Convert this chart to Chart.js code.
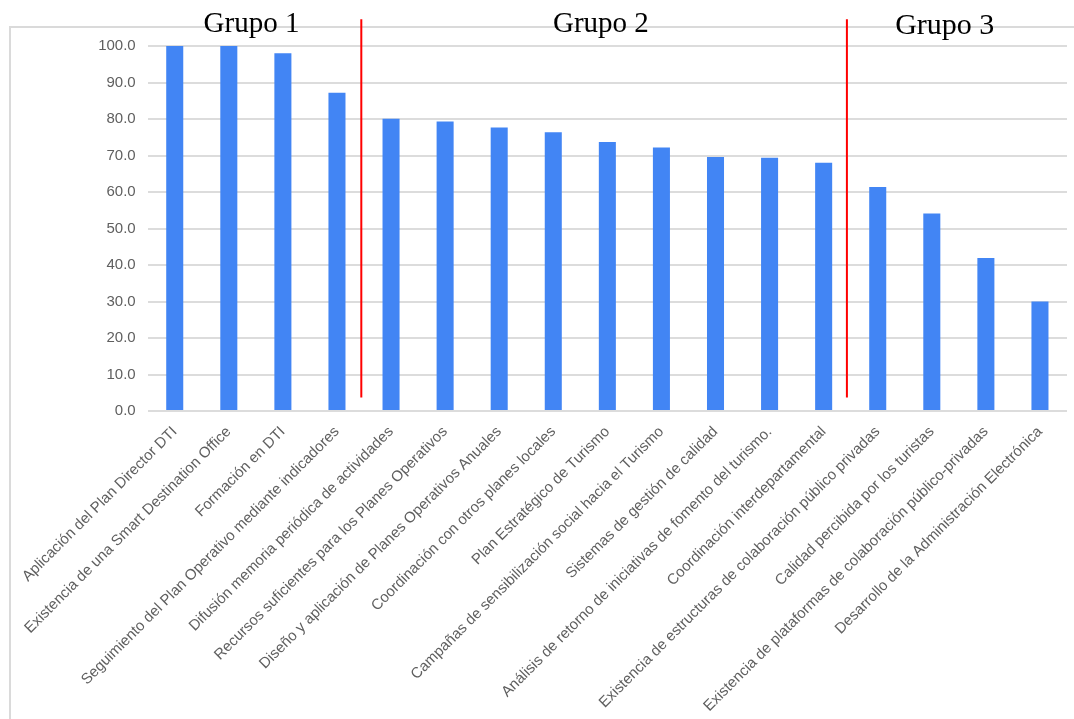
<!DOCTYPE html>
<html>
<head>
<meta charset="utf-8">
<script src="https://cdn.jsdelivr.net/npm/chart.js@4.4.1/dist/chart.umd.min.js"></script>
<style>
  html, body { margin: 0; padding: 0; background: #ffffff; }
  #wrap { position: relative; width: 1074px; height: 719px; }
</style>
</head>
<body>
<div id="wrap"><canvas id="chart" width="1074" height="719"></canvas></div>
<script>
// Indicadores evaluados, ordenados de mayor a menor puntuación
const categories = [
  'Aplicación del Plan Director DTI',
  'Existencia de una Smart Destination Office',
  'Formación en DTI',
  'Seguimiento del Plan Operativo mediante indicadores',
  'Difusión memoria periódica de actividades',
  'Recursos suficientes para los Planes Operativos',
  'Diseño y aplicación de Planes Operativos Anuales',
  'Coordinación con otros planes locales',
  'Plan Estratégico de Turismo',
  'Campañas de sensibilización social hacia el Turismo',
  'Sistemas de gestión de calidad',
  'Análisis de retorno de iniciativas de fomento del turismo.',
  'Coordinación interdepartamental',
  'Existencia de estructuras de colaboración público privadas',
  'Calidad percibida por los turistas',
  'Existencia de plataformas de colaboración público-privadas',
  'Desarrollo de la Administración Electrónica'
];

const scores = [100.0, 100.0, 98.0, 87.2, 80.1, 79.3, 77.7, 76.4, 73.7, 72.2, 69.6, 69.4, 68.0, 61.4, 54.1, 41.9, 30.0];

const yTicks = [0, 10, 20, 30, 40, 50, 60, 70, 80, 90, 100];

// Grupos: nombre, posición central (índice de categoría), altura de la línea base (valor del eje) y tamaño de letra
const groupNames = ['Grupo 1', 'Grupo 2', 'Grupo 3'];
const groupCenters = [1.42, 7.88, 14.24];
const groupBaselines = [103.9, 103.9, 103.3];
const groupFontSizes = [29, 29, 30];

// Separadores entre grupos (posición en índice de categoría) y su extensión vertical
const dividerPositions = [3.45, 12.43];
const dividerRange = [3.7, 107.3];

const frameColor = '#dadada';

const groupsPlugin = {
  id: 'groups',
  beforeDraw(chart) {
    const ctx = chart.ctx;
    ctx.save();
    ctx.strokeStyle = frameColor;
    ctx.lineWidth = 2;
    ctx.beginPath();
    ctx.moveTo(10, chart.height);
    ctx.lineTo(10, 27);
    ctx.lineTo(chart.width, 27);
    ctx.stroke();
    ctx.restore();
  },
  afterDatasetsDraw(chart) {
    const ctx = chart.ctx;
    const xs = chart.scales.x;
    const ys = chart.scales.y;
    ctx.save();
    ctx.strokeStyle = '#ff0000';
    ctx.lineWidth = 2;
    dividerPositions.forEach(p => {
      const x = xs.getPixelForValue(p);
      ctx.beginPath();
      ctx.moveTo(x, ys.getPixelForValue(dividerRange[1]));
      ctx.lineTo(x, ys.getPixelForValue(dividerRange[0]));
      ctx.stroke();
    });
    ctx.fillStyle = '#000000';
    ctx.textAlign = 'center';
    ctx.textBaseline = 'alphabetic';
    groupNames.forEach((name, i) => {
      ctx.font = groupFontSizes[i] + 'px "Liberation Serif", "Times New Roman", serif';
      ctx.fillText(name, xs.getPixelForValue(groupCenters[i]), ys.getPixelForValue(groupBaselines[i]));
    });
    ctx.restore();
  }
};

new Chart(document.getElementById('chart'), {
  type: 'bar',
  data: {
    labels: categories,
    datasets: [{
      data: scores,
      backgroundColor: '#4285f4',
      borderWidth: 0,
      barPercentage: 0.315,
      categoryPercentage: 1.0
    }]
  },
  options: {
    responsive: false,
    animation: false,
    devicePixelRatio: 1,
    layout: { padding: { left: 10, right: 7, top: 46, bottom: 0 } },
    plugins: {
      legend: { display: false },
      tooltip: { enabled: false }
    },
    scales: {
      x: {
        grid: { display: false },
        border: { display: false },
        ticks: {
          autoSkip: false,
          minRotation: 45,
          maxRotation: 45,
          padding: 4,
          color: '#5f5f5f',
          font: { family: '"Liberation Sans", Arial, sans-serif', size: 15 }
        },
        afterFit(scale) { scale.height = 719 - 411; }
      },
      y: {
        min: 0,
        max: 100,
        afterBuildTicks(scale) { scale.ticks = yTicks.map(v => ({ value: v })); },
        grid: { color: '#dcdcdc', lineWidth: 2, drawTicks: false },
        border: { display: false },
        ticks: {
          padding: 12,
          color: '#5f5f5f',
          font: { family: '"Liberation Sans", Arial, sans-serif', size: 15 },
          callback: v => Number(v).toFixed(1)
        },
        afterFit(scale) { scale.width = 137.7; }
      }
    }
  },
  plugins: [groupsPlugin]
});
</script>
</body>
</html>
